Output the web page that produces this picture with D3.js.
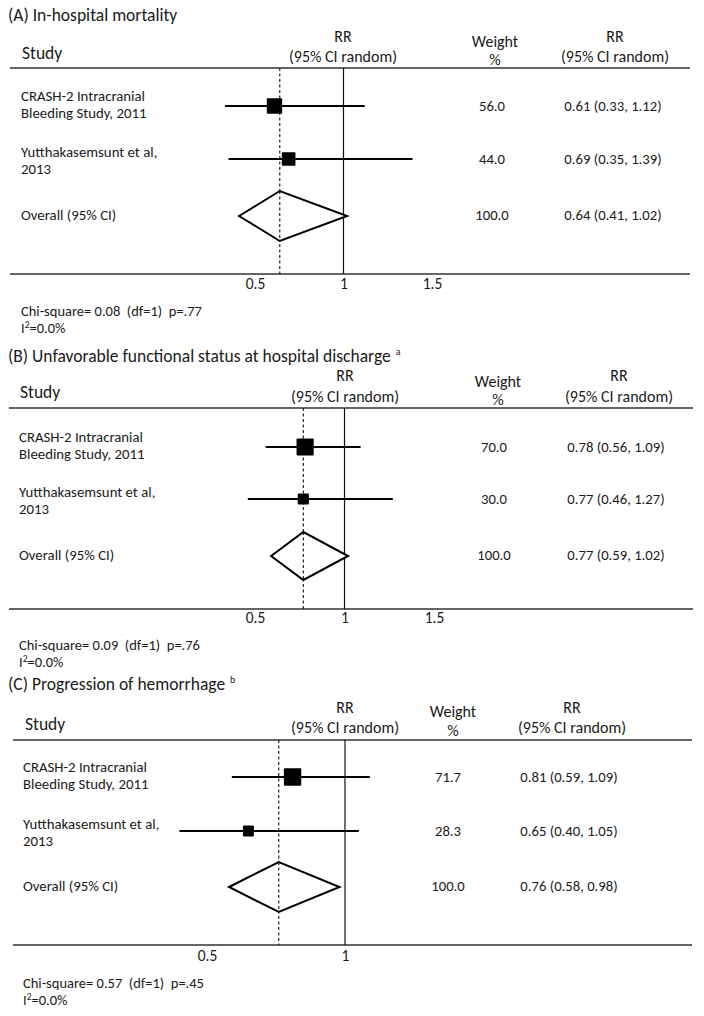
<!DOCTYPE html>
<html>
<head>
<meta charset="utf-8">
<script src="https://cdn.jsdelivr.net/npm/d3@7"></script>
<style>
  html, body { margin: 0; padding: 0; background: #fff; }
  svg { display: block; }
  text { font-family: Carlito, Lato, "Liberation Sans", sans-serif; fill: #1a1a1a; white-space: pre; }
</style>
</head>
<body>
<div id="chart"></div>
<script>
// ---------------- DATA ----------------
const panelTitles = ["(A) In-hospital mortality", "(B) Unfavorable functional status at hospital discharge", "(C) Progression of hemorrhage"];
const titleNotes = ["", "a", "b"];
const studyLine1 = ["CRASH-2 Intracranial", "Yutthakasemsunt et al,"];
const studyLine2 = ["Bleeding Study, 2011", "2013"];
const overallLabel = "Overall (95% CI)";
const rr = [[0.61, 0.69], [0.78, 0.77], [0.81, 0.65]];
const ciLow = [[0.33, 0.35], [0.56, 0.46], [0.59, 0.40]];
const ciHigh = [[1.12, 1.39], [1.09, 1.27], [1.09, 1.05]];
const weights = [[56.0, 44.0], [70.0, 30.0], [71.7, 28.3]];
const overallRR = [0.64, 0.77, 0.76];
const overallLow = [0.41, 0.59, 0.58];
const overallHigh = [1.02, 1.02, 0.98];
const chiSquare = [0.08, 0.09, 0.57];
const chiDf = [1, 1, 1];
const pValues = [".77", ".76", ".45"];
const iSquared = [0.0, 0.0, 0.0];
const tickValues = [[0.5, 1, 1.5], [0.5, 1, 1.5], [0.5, 1]];

// ---------------- LAYOUT ----------------
const W = 704, H = 1016;
const layout = [
  { title: 21, head: 68, rrHead: 42, rrHead2: 62, study: 59, wHead: 47, wHead2: 65, rows: [106, 159], ov: 216, axis: 274, tick: 289, chi: 316, i2: 333,
    lineX: [10, 690], labelX: 21, studyX: 22, xRange: [255, 432], colRR: 343, colW: 495, colWv: 492, colR: 615, colRv: 613, dh: 25 },
  { title: 362, head: 408, rrHead: 381, rrHead2: 402, study: 398, wHead: 387, wHead2: 405, rows: [447, 499], ov: 556, axis: 609, tick: 623, chi: 650, i2: 667,
    lineX: [9, 693], labelX: 19, studyX: 20, xRange: [255, 434], colRR: 345, colW: 498, colWv: 494, colR: 619, colRv: 616, dh: 24 },
  { title: 690, head: 740, rrHead: 713, rrHead2: 733, study: 730, wHead: 717, wHead2: 736, rows: [777, 831], ov: 887, axis: 945, tick: 961, chi: 988, i2: 1005,
    lineX: [13, 692], labelX: 23, studyX: 25, xRange: [207, 345], colRR: 345, colW: 453, colWv: 448, colR: 572, colRv: 569, dh: 25 }
];
const labelOffsets = [[-5, 12], [-2, 15]];
const FS = { title: "17.5px", study: "17.5px", head: "16px", row: "14.8px", val: "14.7px", tick: "15.5px", chi: "14.5px", sup: "10px" };

const f2 = d3.format(".2f"), f1 = d3.format(".1f");
const sizeScale = d3.scaleSqrt().domain([0, 100]).range([0, 20.5]);

const svg = d3.select("#chart").append("svg").attr("width", W).attr("height", H);

panelTitles.forEach((title, p) => {
  const L = layout[p];
  const ticks = tickValues[p];
  const x = d3.scaleLinear().domain([ticks[0], ticks[ticks.length - 1]]).range(L.xRange);
  const g = svg.append("g");

  // Title
  const tt = g.append("text").attr("x", 8).attr("y", L.title).style("font-size", FS.title).text(title);
  if (titleNotes[p]) {
    const tw = tt.node().getComputedTextLength();
    g.append("text").attr("x", 8 + tw + 5).attr("y", L.title - 7).style("font-size", FS.sup).text(titleNotes[p]);
  }

  // Header
  g.append("text").attr("x", L.studyX).attr("y", L.study).style("font-size", FS.study).text("Study");
  g.append("text").attr("x", L.colRR).attr("y", L.rrHead).attr("text-anchor", "middle").style("font-size", FS.head).text("RR");
  g.append("text").attr("x", L.colRR).attr("y", L.rrHead2).attr("text-anchor", "middle").style("font-size", FS.head).text("(95% CI random)");
  g.append("text").attr("x", L.colW).attr("y", L.wHead).attr("text-anchor", "middle").style("font-size", FS.head).text("Weight");
  g.append("text").attr("x", L.colW).attr("y", L.wHead2).attr("text-anchor", "middle").style("font-size", FS.head).text("%");
  g.append("text").attr("x", L.colR).attr("y", L.rrHead).attr("text-anchor", "middle").style("font-size", FS.head).text("RR");
  g.append("text").attr("x", L.colR).attr("y", L.rrHead2).attr("text-anchor", "middle").style("font-size", FS.head).text("(95% CI random)");

  // Horizontal rules
  g.append("line").attr("x1", L.lineX[0]).attr("x2", L.lineX[1]).attr("y1", L.head).attr("y2", L.head)
    .attr("stroke", "#333").attr("stroke-width", 1.5);
  g.append("line").attr("x1", L.lineX[0]).attr("x2", L.lineX[1]).attr("y1", L.axis).attr("y2", L.axis)
    .attr("stroke", "#333").attr("stroke-width", 1.5);

  // Reference lines
  g.append("line").attr("x1", x(1)).attr("x2", x(1)).attr("y1", L.head).attr("y2", L.axis)
    .attr("stroke", "#111").attr("stroke-width", 1.2);
  g.append("line").attr("x1", x(overallRR[p])).attr("x2", x(overallRR[p])).attr("y1", L.head).attr("y2", L.axis)
    .attr("stroke", "#111").attr("stroke-width", 1.1).attr("stroke-dasharray", "3,2.5");

  // Study rows
  rr[p].forEach((v, i) => {
    const y = L.rows[i];
    g.append("text").attr("x", L.labelX).attr("y", y + labelOffsets[i][0]).style("font-size", FS.row).text(studyLine1[i]);
    g.append("text").attr("x", L.labelX).attr("y", y + labelOffsets[i][1]).style("font-size", FS.row).text(studyLine2[i]);
    g.append("line").attr("x1", x(ciLow[p][i])).attr("x2", x(ciHigh[p][i])).attr("y1", y).attr("y2", y)
      .attr("stroke", "#000").attr("stroke-width", 2);
    const s = sizeScale(weights[p][i]);
    g.append("rect").attr("x", x(v) - s / 2).attr("y", y - s / 2).attr("width", s).attr("height", s)
      .attr("rx", 1).attr("fill", "#000");
    g.append("text").attr("x", L.colWv).attr("y", y + 5).attr("text-anchor", "middle").style("font-size", FS.val)
      .text(f1(weights[p][i]));
    g.append("text").attr("x", L.colRv).attr("y", y + 5).attr("text-anchor", "middle").style("font-size", FS.val)
      .text(`${f2(v)} (${f2(ciLow[p][i])}, ${f2(ciHigh[p][i])})`);
  });

  // Overall
  const oy = L.ov;
  g.append("text").attr("x", L.labelX).attr("y", oy + 4).style("font-size", FS.row).text(overallLabel);
  const dpts = [[x(overallLow[p]), oy], [x(overallRR[p]), oy - L.dh], [x(overallHigh[p]), oy], [x(overallRR[p]), oy + L.dh]];
  g.append("path").attr("d", d3.line()(dpts) + "Z").attr("fill", "#fff").attr("stroke", "#000").attr("stroke-width", 2);
  g.append("line").attr("x1", x(overallRR[p])).attr("x2", x(overallRR[p])).attr("y1", oy - L.dh).attr("y2", oy + L.dh)
    .attr("stroke", "#111").attr("stroke-width", 1.1).attr("stroke-dasharray", "3,2.5");
  g.append("text").attr("x", L.colWv).attr("y", oy + 4).attr("text-anchor", "middle").style("font-size", FS.val).text(f1(100));
  g.append("text").attr("x", L.colRv).attr("y", oy + 4).attr("text-anchor", "middle").style("font-size", FS.val)
    .text(`${f2(overallRR[p])} (${f2(overallLow[p])}, ${f2(overallHigh[p])})`);

  // Axis tick labels
  const axis = d3.axisBottom(x).tickValues(ticks).tickSize(0).tickPadding(0).tickFormat(d3.format(""));
  const ag = g.append("g").attr("transform", `translate(0,${L.tick - 10})`).call(axis);
  ag.select(".domain").remove();
  ag.selectAll("text").attr("dy", null).attr("y", 10).style("font-size", FS.tick)
    .style("font-family", "Carlito, Lato, 'Liberation Sans', sans-serif").attr("fill", "#1a1a1a");

  // Heterogeneity
  g.append("text").attr("x", L.labelX).attr("y", L.chi).style("font-size", FS.chi)
    .text(`Chi-square= ${f2(chiSquare[p])}  (df=${chiDf[p]})  p=${pValues[p]}`);
  const t = g.append("text").attr("x", L.labelX).attr("y", L.i2).style("font-size", FS.chi);
  t.append("tspan").text("I");
  t.append("tspan").attr("dy", -5).style("font-size", "9.5px").text("2");
  t.append("tspan").attr("dy", 5).text(`=${f1(iSquared[p])}%`);
});
</script>
</body>
</html>
